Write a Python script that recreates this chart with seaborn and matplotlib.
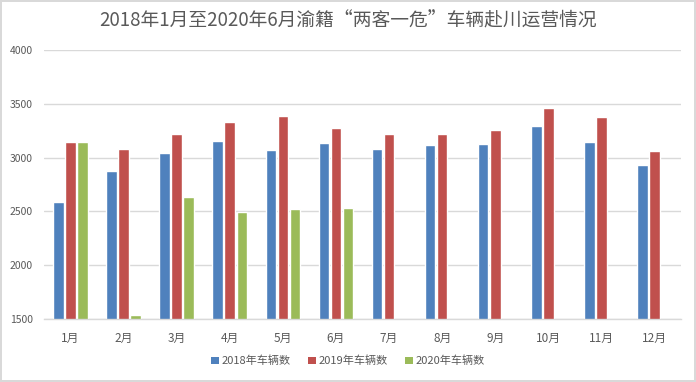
import numpy as np
import pandas as pd
import matplotlib
matplotlib.use("Agg")
import matplotlib.pyplot as plt
import seaborn as sns
from matplotlib.patches import Patch

months = ["1月", "2月", "3月", "4月", "5月", "6月", "7月", "8月", "9月", "10月", "11月", "12月"]
series_names = ["2018年车辆数", "2019年车辆数", "2020年车辆数"]
v2018 = [2592, 2872, 3042, 3152, 3068, 3132, 3078, 3114, 3124, 3292, 3142, 2928]
v2019 = [3142, 3078, 3215, 3328, 3384, 3272, 3216, 3216, 3254, 3460, 3376, 3058]
v2020 = [3142, 1540, 2638, 2498, 2526, 2535, np.nan, np.nan, np.nan, np.nan, np.nan, np.nan]
colors = ["#4F81BD", "#C0504D", "#9BBB59"]

rows = []
for name, vals in zip(series_names, [v2018, v2019, v2020]):
    for m, v in zip(months, vals):
        rows.append({"月份": m, "系列": name, "车辆数": v})
df = pd.DataFrame(rows)

sns.set_theme(style="white")
plt.rcParams['font.family'] = ['Noto Sans CJK SC', 'DejaVu Sans']

fig = plt.figure(figsize=(6.96, 3.82), dpi=100)
fig.patch.set_facecolor("white")
fig.patch.set_edgecolor("#D9D9D9")
fig.patch.set_linewidth(1.5)
ax = fig.add_axes([44/696, 1-319/382, (681-44)/696, (319-50)/382])

sns.barplot(data=df, x="月份", y="车辆数", hue="系列", order=months,
            hue_order=series_names, palette=colors, width=0.68, gap=0.12,
            saturation=1, legend=False, ax=ax, errorbar=None)

ax.set_ylim(1500, 4000)
ax.set_yticks([1500, 2000, 2500, 3000, 3500, 4000])
ax.set_xlim(-0.5, 11.5)
ax.yaxis.grid(True, color="#D9D9D9", linewidth=1)
ax.set_axisbelow(True)
for s in ["top", "right", "left"]:
    ax.spines[s].set_visible(False)
ax.spines["bottom"].set_color("#D9D9D9")
ax.spines["bottom"].set_linewidth(1)
ax.set_xlabel("")
ax.set_ylabel("")
ax.tick_params(axis="both", length=0, colors="#595959")
ax.tick_params(axis="y", labelsize=7.5, pad=8)
ax.tick_params(axis="x", labelsize=8.5, pad=9)

fig.text(0.5, 1-21/382, "2018年1月至2020年6月渝籍“两客一危”车辆赴川运营情况",
         ha="center", va="center", fontsize=13.5, color="#595959")

handles = [Patch(facecolor=c, edgecolor="none") for c in colors]
fig.legend(handles, series_names, loc="center", bbox_to_anchor=(0.5, 1-361/382),
           ncol=3, frameon=False, fontsize=8, handlelength=0.7, handleheight=0.7,
           handletextpad=0.3, columnspacing=1.5, labelcolor="#595959")

fig.savefig("out.png", dpi=100, facecolor=fig.get_facecolor(), edgecolor=fig.get_edgecolor())
